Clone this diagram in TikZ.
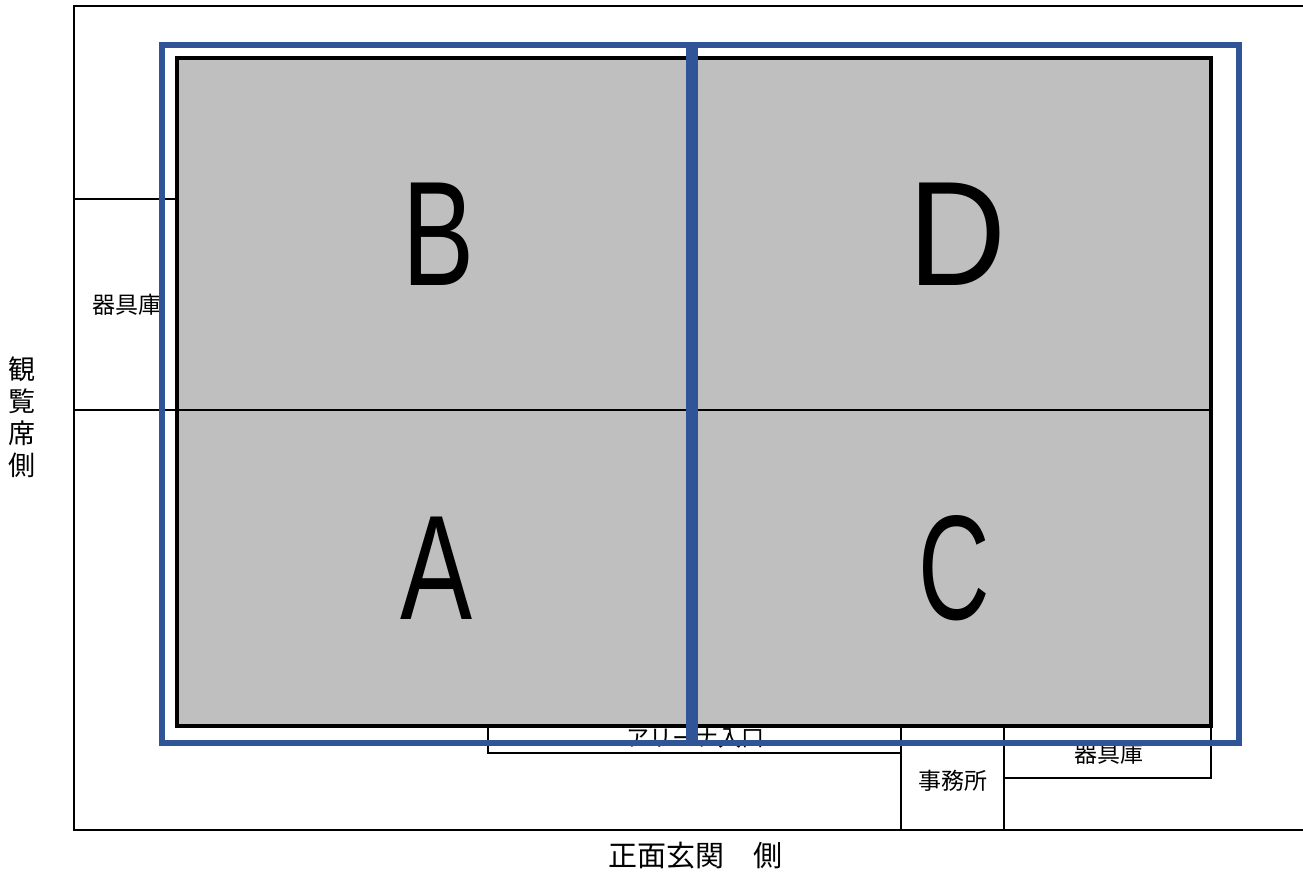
\documentclass[tikz,border=0pt]{standalone}
\usepackage{graphicx}
\usepackage{fontspec}
\setmainfont{Noto Sans CJK JP}
\newfontfamily\latinletters{Liberation Sans}
\definecolor{blueframe}{HTML}{2F5597}
\definecolor{court}{HTML}{BFBFBF}
\tikzset{
  thinline/.style={draw=black,line width=2.2pt},
  room/.style={font=\fontsize{23}{26}\selectfont,inner sep=0pt},
  side/.style={font=\fontsize{29}{32}\selectfont,inner sep=0pt},
  letter/.style={font=\latinletters\fontsize{149}{153}\selectfont,inner sep=0pt},
  blueline/.style={draw=blueframe,line width=6pt},
}
\begin{document}
\begin{tikzpicture}[x=1pt,y=-1pt]
\useasboundingbox (0,0) rectangle (1303,873);
% outer walls
\draw[thinline] (1303,6) -- (74,6) -- (74,830) -- (1303,830);
% side store
\draw[thinline] (74,199) -- (177,199);
\draw[thinline] (74,410) -- (177,410);
\node[room] (storeL) at (127,305) {器具庫};
% bottom rooms
\draw[thinline] (488,726) -- (488,753) -- (901,753);
\draw[thinline] (901,726) -- (901,830);
\draw[thinline] (1004,726) -- (1004,830);
\draw[thinline] (1004,778) -- (1211,778) -- (1211,726);
\node[room] (entry) at (695,738) {アリーナ入口};
\node[room] (office) at (953,781) {事務所};
\node[room] (storeB) at (1109,754) {器具庫};
% court
\draw[draw=black,line width=4pt,fill=court] (177,58) rectangle (1211,726);
\draw[thinline] (177,410) -- (1211,410);
\node[letter] (B) at (439,234) {\scalebox{0.725}[1]{B}};
\node[letter] (D) at (957.5,234) {\scalebox{0.91}[1]{D}};
\node[letter] (A) at (437,568.5) {\scalebox{0.725}[1]{A}};
\node[letter] (C) at (954,568.5) {\scalebox{0.665}[1]{C}};
% blue frames
\draw[blueline] (162,45) rectangle (1239,743);
\draw[draw=blueframe,line width=12pt] (692,42) -- (692,746);
% side labels
\node[side] (front) at (695,856) {正面玄関　側};
\node[align=center,inner sep=0pt,font=\fontsize{27}{32}\selectfont] (seats) at (22,417) {観\\覧\\席\\側};
\end{tikzpicture}
\end{document}
